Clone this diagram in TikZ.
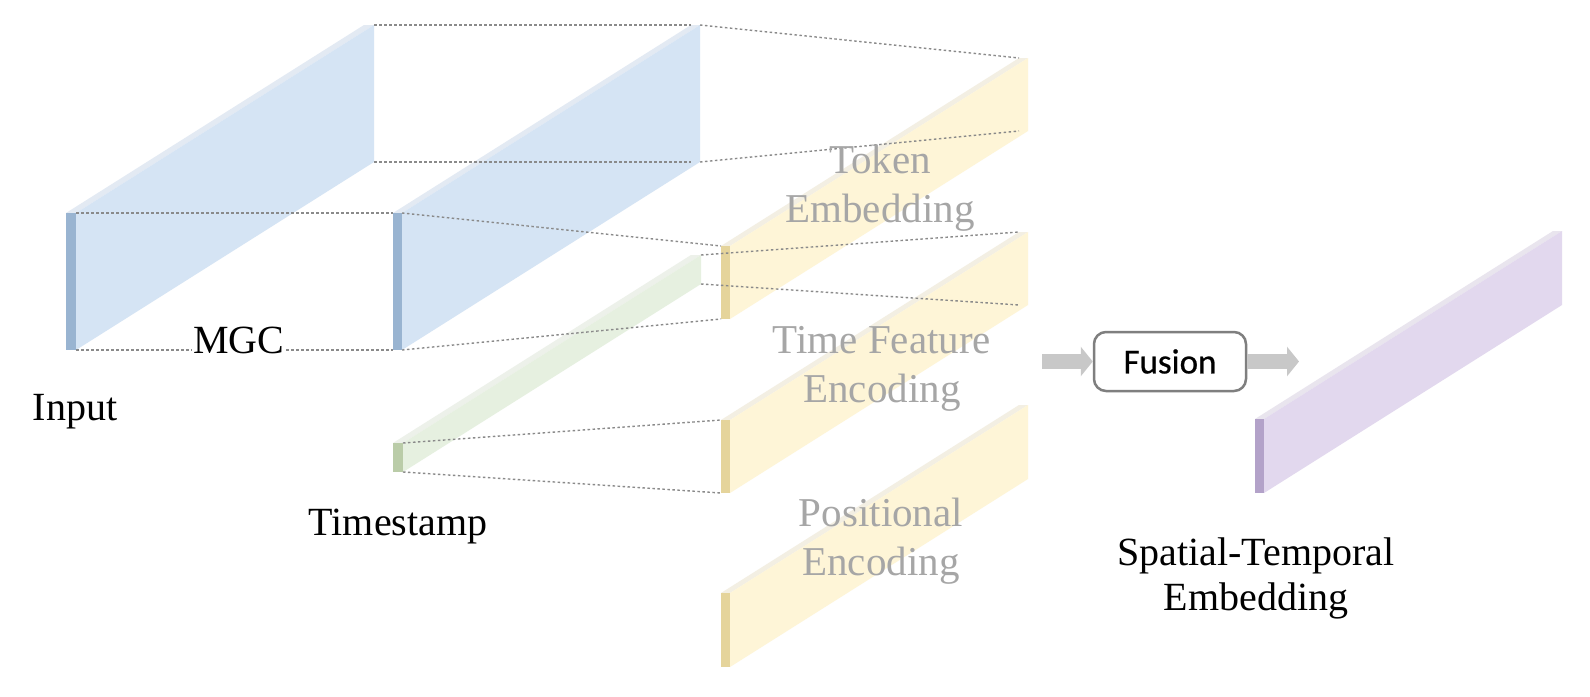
\documentclass[tikz,border=0pt]{standalone}
\usepackage{fontspec}
\setmainfont{Liberation Serif}
\newfontfamily\fusionfont[FakeBold=0.6]{Carlito}
\usetikzlibrary{arrows.meta}
\definecolor{bluefront}{HTML}{99B4D1}
\definecolor{blueside}{HTML}{D5E4F4}
\definecolor{bluetop}{HTML}{E3EAF3}
\definecolor{greenfront}{HTML}{BACCA8}
\definecolor{greenside}{HTML}{E6F0E0}
\definecolor{greentop}{HTML}{EDF1EA}
\definecolor{yellowfront}{HTML}{E5D49B}
\definecolor{yellowside}{HTML}{FEF5D7}
\definecolor{yellowtop}{HTML}{F3EFE3}
\definecolor{purplefront}{HTML}{B3A2C9}
\definecolor{purpleside}{HTML}{E2D8EE}
\definecolor{purpletop}{HTML}{E9E5EE}
\definecolor{guidegray}{HTML}{8A8A8A}
\definecolor{labelgray}{HTML}{A6A6A6}
\definecolor{boxgray}{HTML}{7F7F7F}
\definecolor{arrowgray}{HTML}{C8C8C8}
% #1 name, #2 x0, #3 y0, #4 width, #5 height, #6 front, #7 side, #8 top
\newcommand\myslab[8]{%
  \coordinate (#1-flt) at (#2,#3);
  \coordinate (#1-frt) at ({#2+#4},#3);
  \coordinate (#1-flb) at (#2,{#3+#5});
  \coordinate (#1-frb) at ({#2+#4},{#3+#5});
  \coordinate (#1-brt) at ({#2+#4+298},{#3-188});
  \coordinate (#1-brb) at ({#2+#4+298},{#3+#5-188});
  \coordinate (#1-blt) at ({#2+298},{#3-188});
  \coordinate (#1-blb) at ({#2+298},{#3+#5-188});
  \fill[#8] (#1-flt) -- (#1-frt) -- (#1-brt) -- (#1-blt) -- cycle;
  \fill[#7] (#1-frt) -- (#1-frb) -- (#1-brb) -- (#1-brt) -- cycle;
  \fill[#6] (#1-flt) rectangle (#1-frb);
}
\begin{document}
\begin{tikzpicture}[x=1pt,y=-1pt,
  guide/.style={draw=guidegray, line width=1.4pt, dash pattern=on 2.5pt off 2.5pt},
  blacklabel/.style={font=\fontsize{40}{45}\selectfont, text=black, align=center, inner sep=0pt, anchor=base},
  graylabel/.style={font=\fontsize{41}{49}\selectfont, text=labelgray, align=center, inner sep=0pt, anchor=base},
  fusionbox/.style={draw=boxgray, line width=2.5pt, rounded corners=12pt, fill=white,
    minimum width=152pt, minimum height=59pt, inner sep=0pt, font=\fusionfont\fontsize{35}{40}\selectfont},
  bigarrow/.style={draw=arrowgray, line width=15pt, -{Triangle[length=12pt,width=29pt]}}]
\useasboundingbox (0,0) rectangle (1590,696);
\fill[white] (0,0) rectangle (1590,696);
% slabs
\myslab{bone}{66}{213}{10}{137}{bluefront}{blueside}{bluetop}
\myslab{btwo}{393}{213}{9}{137}{bluefront}{blueside}{bluetop}
\myslab{grn}{393}{443}{10}{29}{greenfront}{greenside}{greentop}
\myslab{yone}{721}{246}{9}{73}{yellowfront}{yellowside}{yellowtop}
\myslab{ytwo}{721}{420}{9}{73}{yellowfront}{yellowside}{yellowtop}
\myslab{ythree}{721}{593}{9}{74}{yellowfront}{yellowside}{yellowtop}
\myslab{purp}{1255}{419}{9}{74}{purplefront}{purpleside}{purpletop}
% guide lines
\draw[guide] (bone-brt) -- (btwo-blt);
\draw[guide] (bone-brb) -- (btwo-blb);
\draw[guide] (bone-frt) -- (btwo-flt);
\draw[guide] (bone-frb) -- (btwo-flb);
\draw[guide] (btwo-brt) -- (yone-blt);
\draw[guide] (btwo-brb) -- (yone-blb);
\draw[guide] (btwo-frt) -- (yone-flt);
\draw[guide] (btwo-frb) -- (yone-flb);
\draw[guide] (grn-brt) -- (ytwo-blt);
\draw[guide] (grn-brb) -- (ytwo-blb);
\draw[guide] (grn-frt) -- (ytwo-flt);
\draw[guide] (grn-frb) -- (ytwo-flb);
% fusion
\node[fusionbox] (fusion) at (1170,361.5) {Fusion};
\coordinate (fin) at (1042,361.5);
\coordinate (fout) at (1299,361.5);
\draw[bigarrow] (fin) -- (fusion.west);
\draw[bigarrow] (fusion.east) -- (fout);
% labels
\node[blacklabel] (input) at (75,420) {Input};
\node[blacklabel, fill=white, inner sep=1pt] (mgc) at (239,353) {MGC};
\node[blacklabel] (timestamp) at (398,535) {Timestamp};
\node[blacklabel] (ste) at (1256,610) {Spatial-Temporal\\Embedding};
\node[graylabel] (token) at (880,222) {Token\\Embedding};
\node[graylabel] (timefeat) at (882,402) {Time Feature\\Encoding};
\node[graylabel] (posenc) at (881,575) {Positional\\Encoding};
\end{tikzpicture}
\end{document}
